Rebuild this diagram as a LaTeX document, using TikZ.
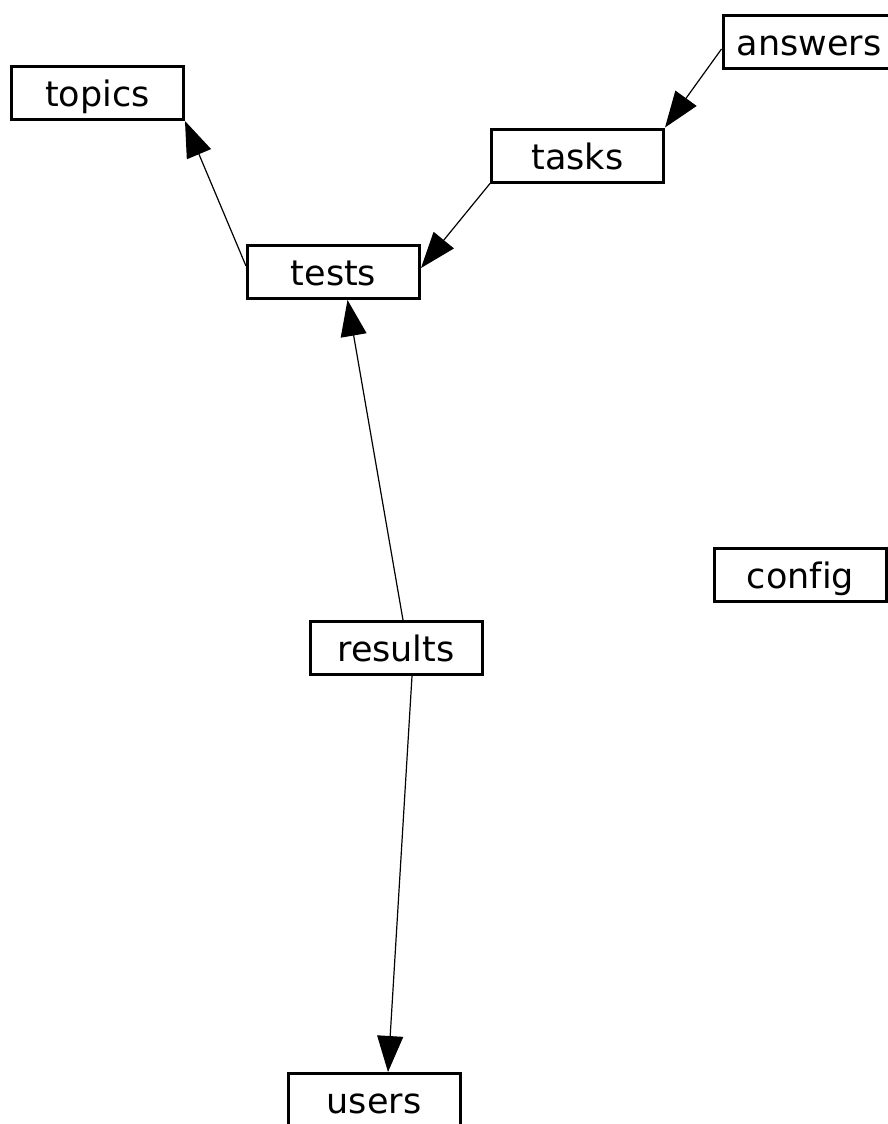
\documentclass[tikz,border=0pt]{standalone}
\usepackage{fontspec}
\setmainfont[Ligatures=NoCommon]{DejaVu Sans}
\usetikzlibrary{positioning,arrows.meta}

\begin{document}
\begin{tikzpicture}[
  x=1pt, y=-1pt,
  every node/.style={font=\fontsize{35}{42}\selectfont},
  box/.style={rectangle, draw=black, line width=3pt, fill=white, minimum width=172pt, minimum height=53pt, inner sep=0pt, text height=27pt, text depth=0pt},
  link/.style={-{Triangle[length=36pt, width=26pt]}, line width=1.2pt}
]
\useasboundingbox (0,0) rectangle (888,1124);
\node[box] (topics) at (97.5,93) {topics};
\node[box] (answers) at (809,42) {answers};
\node[box] (tasks) at (577.5,155.5) {tasks};
\node[box] (tests) at (333.5,272) {tests};
\node[box] (config) at (800.5,574.5) {config};
\node[box] (results) at (396,648) {results};
\node[box] (users) at (374,1100) {users};
\draw[link] ([yshift=6pt]tests.west) -- (topics.south east);
\draw[link] (tasks.south west) -- ([yshift=4pt]tests.east);
\draw[link] ([yshift=-7pt]answers.west) -- (tasks.north east);
\draw[link] ([xshift=7pt]results.north) -- ([xshift=14pt]tests.south);
\draw[link] ([xshift=16pt]results.south) -- ([xshift=14pt]users.north);
\end{tikzpicture}
\end{document}
